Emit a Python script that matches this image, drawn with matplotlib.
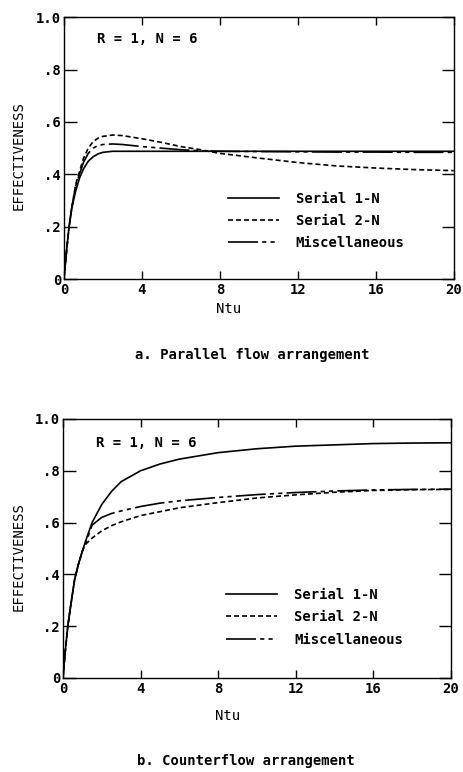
import matplotlib
matplotlib.use("Agg")
import matplotlib.pyplot as plt

# a. parallel flow arrangement
ntu_a = [0, 0.1, 0.25, 0.4, 0.6, 0.8, 1.0, 1.25, 1.5, 1.75, 2.0, 2.5, 3, 4, 5, 6, 7, 8, 10, 12, 14, 16, 18, 20]
par_serial1 = [0, 0.08, 0.19, 0.27, 0.335, 0.385, 0.42, 0.45, 0.467, 0.478, 0.484, 0.488, 0.488, 0.488,
               0.488, 0.488, 0.488, 0.488, 0.488, 0.488, 0.488, 0.488, 0.488, 0.488]
par_serial2 = [0, 0.08, 0.19, 0.27, 0.36, 0.41, 0.46, 0.5, 0.525, 0.538, 0.545, 0.55, 0.548, 0.536,
               0.522, 0.506, 0.494, 0.48, 0.462, 0.445, 0.432, 0.424, 0.418, 0.414]
par_misc = [0, 0.08, 0.19, 0.27, 0.355, 0.40, 0.445, 0.48, 0.5, 0.51, 0.514, 0.516, 0.514, 0.506,
            0.5, 0.494, 0.49, 0.488, 0.487, 0.486, 0.485, 0.485, 0.484, 0.484]

# b. counterflow arrangement
ntu_b = [0, 0.1, 0.25, 0.4, 0.6, 0.8, 1.0, 1.15, 1.5, 2, 2.5, 3, 4, 5, 6, 8, 10, 12, 14, 16, 18, 20]
cf_serial1 = [0, 0.09, 0.2, 0.28, 0.38, 0.44, 0.49, 0.525, 0.6, 0.67, 0.72, 0.758, 0.80, 0.826,
              0.845, 0.87, 0.885, 0.895, 0.90, 0.905, 0.907, 0.908]
cf_serial2 = [0, 0.09, 0.2, 0.28, 0.38, 0.44, 0.49, 0.515, 0.54, 0.568, 0.588, 0.603, 0.627, 0.642,
              0.657, 0.677, 0.695, 0.707, 0.717, 0.724, 0.727, 0.728]
cf_misc = [0, 0.09, 0.2, 0.28, 0.38, 0.44, 0.49, 0.515, 0.59, 0.62, 0.635, 0.645, 0.662, 0.675,
           0.684, 0.697, 0.708, 0.716, 0.722, 0.726, 0.728, 0.729]

labels = ["Serial 1-N", "Serial 2-N", "Miscellaneous"]
x_ticks = [0, 4, 8, 12, 16, 20]
y_ticks = [0, 0.2, 0.4, 0.6, 0.8, 1.0]
y_ticklabels = ["0", ".2", ".4", ".6", ".8", "1.0"]

plt.rcParams["font.family"] = ["DejaVu Sans Mono"]
plt.rcParams["font.weight"] = "bold"
plt.rcParams["font.size"] = 10

styles = ["-", (0, (3, 1.8)), (0, (18, 2.5, 2.5, 2.5, 2.5, 2.5))]

fig = plt.figure(figsize=(4.63, 7.72), dpi=100)
ax_a = fig.add_axes([0.138, 0.6386, 0.842, 0.339])
ax_b = fig.add_axes([0.136, 0.1218, 0.838, 0.3355])

panels = [
    (ax_a, ntu_a, [par_serial1, par_serial2, par_misc], 0.916, 0.334, -0.088, 0.473, 0.6),
    (ax_b, ntu_b, [cf_serial1, cf_serial2, cf_misc], 0.907, 0.349, -0.12, 0.467, 0.62),
]

for ax, x, ys, note_y, leg_y, xlab_y, ylab_y, spacing in panels:
    for y, ls, lab in zip(ys, styles, labels):
        ax.plot(x, y, color="black", linestyle=ls, linewidth=1.2, label=lab)
    ax.set_xlim(0, 20)
    ax.set_ylim(0, 1.0)
    ax.set_xticks(x_ticks)
    ax.set_yticks(y_ticks)
    ax.set_yticklabels(y_ticklabels)
    ax.tick_params(axis="both", direction="in", top=True, right=True, width=1, labelsize=10)
    ax.tick_params(axis="x", length=6, pad=3)
    ax.tick_params(axis="y", length=9, pad=2)
    for sp in ax.spines.values():
        sp.set_linewidth(1)
    ax.text(0.085, note_y, "R = 1, N = 6", transform=ax.transAxes, ha="left", va="center")
    ax.legend(loc="upper left", bbox_to_anchor=(0.42, leg_y), frameon=False, borderpad=0,
              borderaxespad=0, handlelength=3.7, handletextpad=1.2, labelspacing=spacing)
    ax.set_xlabel("Ntu", va="top")
    ax.xaxis.set_label_coords(0.423, xlab_y)
    ax.set_ylabel("EFFECTIVENESS", va="center")
    ax.yaxis.set_label_coords(-0.115, ylab_y)

fig.text(0.544, 0.540, "a. Parallel flow arrangement", ha="center", va="center")
fig.text(0.531, 0.0142, "b. Counterflow arrangement", ha="center", va="center")

fig.savefig("out.png", dpi=100)
